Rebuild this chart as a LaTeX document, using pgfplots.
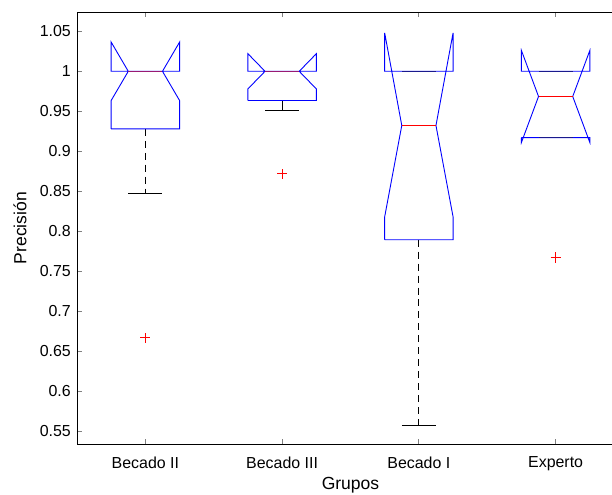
\documentclass[border=0pt]{standalone}
\usepackage{fontspec}
\setmainfont{Liberation Sans}
\usepackage{pgfplots}
\pgfplotsset{compat=1.18}
\definecolor{mblue}{rgb}{0,0,1}
\definecolor{mred}{rgb}{1,0,0}
\definecolor{medpurp}{rgb}{0.6,0.1,0.45}
\definecolor{capnavy}{rgb}{0.1,0.1,0.55}
\begin{document}
\begin{tikzpicture}
\useasboundingbox (-77bp,-51bp) rectangle (535bp,444bp);
\begin{axis}[
  at={(0bp,0bp)}, anchor=south west,
  scale only axis, width=547bp, height=432bp,
  xmin=0.5, xmax=4.5, ymin=0.5337, ymax=1.0742,
  clip=false,
  xtick={1,2,3,4}, xticklabels={Becado II,Becado III,Becado I,Experto},
  ytick={0.55,0.6,0.65,0.7,0.75,0.8,0.85,0.9,0.95,1,1.05},
  yticklabels={0.55,0.6,0.65,0.7,0.75,0.8,0.85,0.9,0.95,1,1.05},
  tick align=inside, major tick length=5bp,
  axis line style={line width=0.8pt},
  tick style={line width=0.8pt},
  ticklabel style={font=\fontsize{16}{19}\selectfont},
  xticklabel style={yshift=-9pt},
  yticklabel style={xshift=-2.7pt},
  xlabel={Grupos}, ylabel={Precisión},
  label style={font=\fontsize{17.6}{21}\selectfont},
  xlabel style={at={(axis description cs:0.5,-0.0956)},anchor=center},
  ylabel style={at={(axis description cs:-0.104,0.5)},anchor=center},
]
% ---- whiskers (black)
\addplot[color=black, line width=0.9pt, dash pattern=on 7pt off 5pt] coordinates {(1,0.928) (1,0.847)};
\addplot[color=black, line width=0.9pt, dash pattern=on 7pt off 5pt] coordinates {(3,0.7893) (3,0.5575)};
\addplot[color=black, line width=0.9pt] coordinates {(2,0.9635) (2,0.951)};
\addplot[color=black, line width=0.9pt] coordinates {(0.875,0.847) (1.125,0.847)};
\addplot[color=black, line width=0.9pt] coordinates {(1.875,0.951) (2.125,0.951)};
\addplot[color=black, line width=0.9pt] coordinates {(2.875,0.5575) (3.125,0.5575)};
% ---- notched boxes (blue)
\addplot[color=white, color=mblue, line width=0.9pt] coordinates {(0.75,0.928) (0.75,0.9635) (0.875,1.0) (0.75,1.0365) (0.75,1.0) (1.25,1.0) (1.25,1.0365) (1.125,1.0) (1.25,0.9635) (1.25,0.928) (0.75,0.928)};
\addplot[color=white, color=mblue, line width=0.9pt] coordinates {(1.75,0.9635) (1.75,0.978) (1.875,1.0) (1.75,1.022) (1.75,1.0) (2.25,1.0) (2.25,1.022) (2.125,1.0) (2.25,0.978) (2.25,0.9635) (1.75,0.9635)};
\addplot[color=white, color=mblue, line width=0.9pt] coordinates {(2.75,0.7893) (2.75,0.818) (2.875,0.9322) (2.75,1.048) (2.75,1.0) (3.25,1.0) (3.25,1.048) (3.125,0.9322) (3.25,0.818) (3.25,0.7893) (2.75,0.7893)};
\addplot[color=white, color=mblue, line width=0.9pt] coordinates {(3.75,0.917) (3.75,0.911) (3.875,0.9685) (3.75,1.026) (3.75,1.0) (4.25,1.0) (4.25,1.026) (4.125,0.9685) (4.25,0.911) (4.25,0.917) (3.75,0.917)};
% ---- whisker caps lying on box edges
\addplot[color=white, color=capnavy, line width=1pt] coordinates {(2.875,1.0) (3.125,1.0)};
\addplot[color=white, color=capnavy, line width=1pt] coordinates {(3.875,1.0) (4.125,1.0)};
\addplot[color=white, color=capnavy, line width=1pt] coordinates {(3.875,0.917) (4.125,0.917)};
% ---- medians
\addplot[color=white, color=medpurp, line width=1.4pt] coordinates {(0.875,1.0) (1.125,1.0)};
\addplot[color=white, color=medpurp, line width=1.4pt] coordinates {(1.875,1.0) (2.125,1.0)};
\addplot[color=white, color=mred, line width=1.2pt] coordinates {(2.875,0.9322) (3.125,0.9322)};
\addplot[color=white, color=mred, line width=1.2pt] coordinates {(3.875,0.9685) (4.125,0.9685)};
% ---- outliers drawn as plus-shaped segments
\addplot[color=white, color=mred, line width=1.2pt] coordinates {(0.964,0.6667) (1.036,0.6667)};
\addplot[color=white, color=mred, line width=1.2pt] coordinates {(1,0.6604) (1,0.6730)};
\addplot[color=white, color=mred, line width=1.2pt] coordinates {(1.964,0.872) (2.036,0.872)};
\addplot[color=white, color=mred, line width=1.2pt] coordinates {(2,0.8657) (2,0.8783)};
\addplot[color=white, color=mred, line width=1.2pt] coordinates {(3.964,0.767) (4.036,0.767)};
\addplot[color=white, color=mred, line width=1.2pt] coordinates {(4,0.7607) (4,0.7733)};
\end{axis}
\end{tikzpicture}
\end{document}
